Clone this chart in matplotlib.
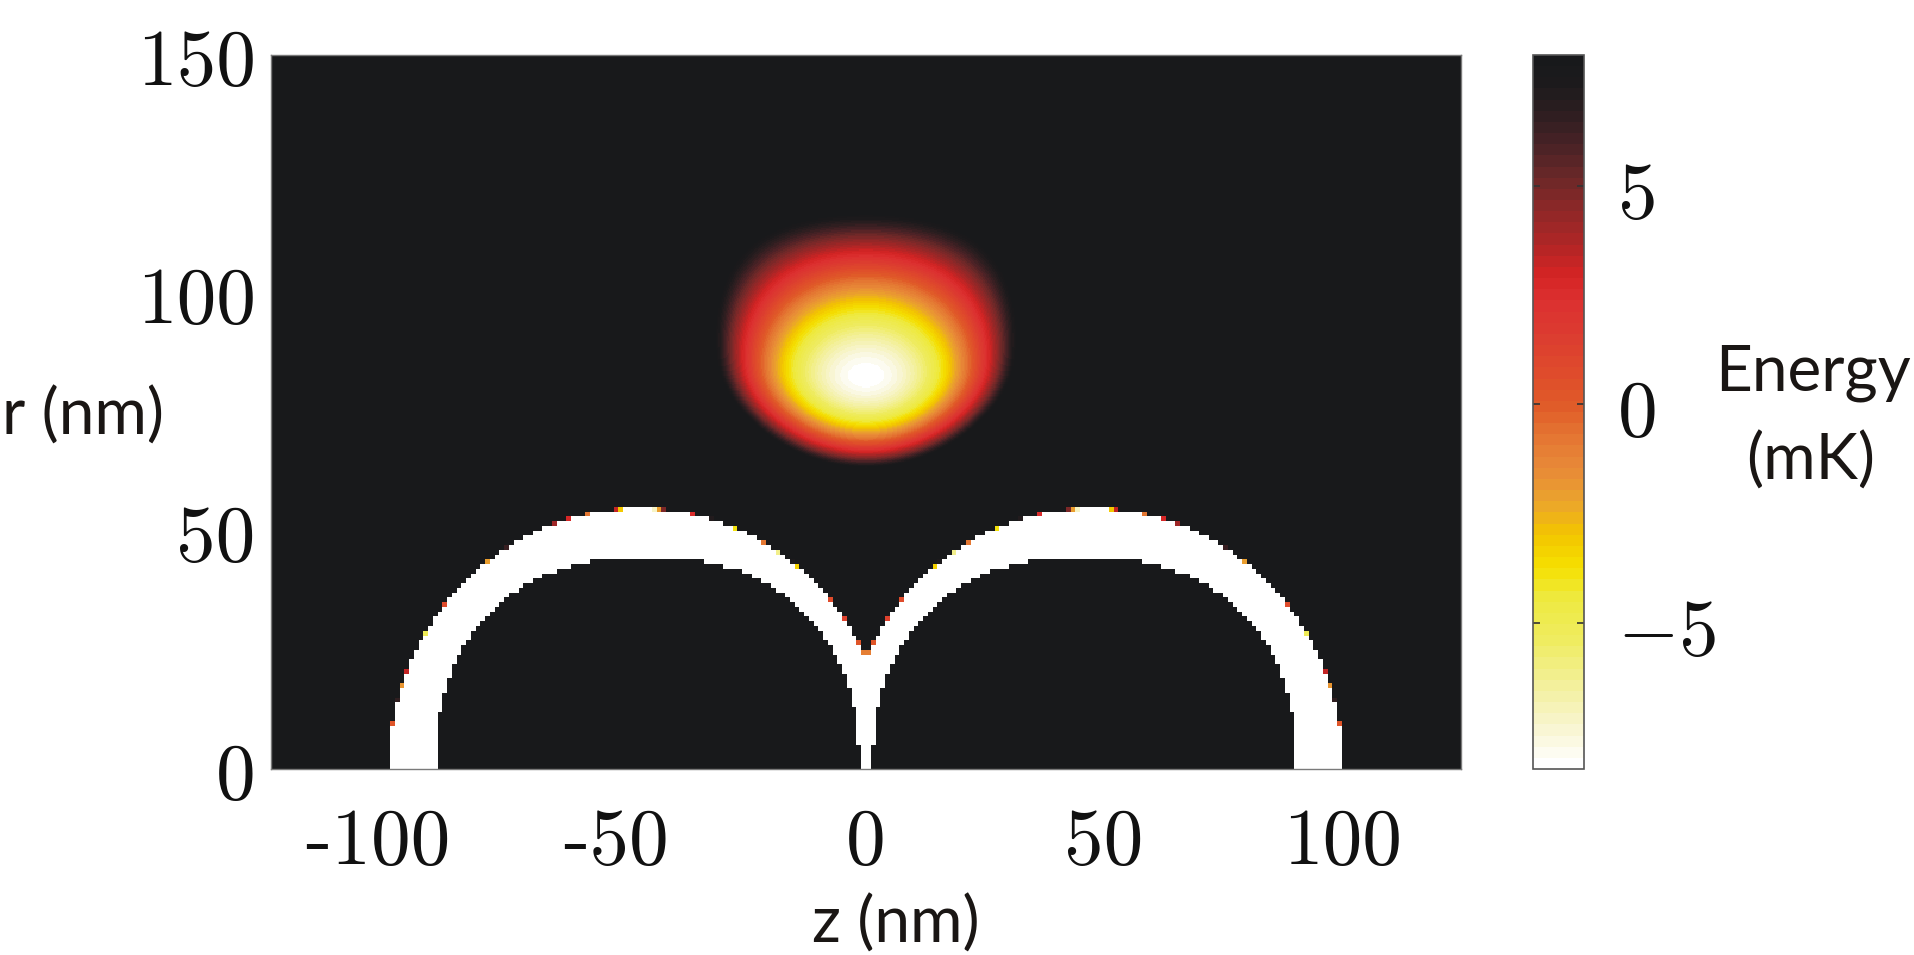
import numpy as np
import matplotlib
matplotlib.use("Agg")
import matplotlib.pyplot as plt
from matplotlib.colors import LinearSegmentedColormap
from matplotlib.transforms import ScaledTranslation

plt.rcParams["mathtext.fontset"] = "cm"
plt.rcParams["axes.unicode_minus"] = False

# ---------------- data ----------------
z_ticks = [-100, -50, 0, 50, 100]
z_ticklabels = ["-100", "-50", "0", "50", "100"]
r_ticks = [0, 50, 100, 150]
r_ticklabels = ["0", "50", "100", "150"]
cbar_ticks = [-5, 0, 5]
cbar_ticklabels = [r"$-5$", r"$0$", r"$5$"]

z_range = [-125, 125]          # nm
r_range = [0, 150]             # nm
energy_range = [-8.35, 8.0]    # mK (colour scale limits)

# trapping-potential well above the dimer
trap_center = [0.0, 82.5]      # z, r (nm)
trap_k_z = 0.0175              # mK/nm^2 along z at the minimum
trap_k_z_slope = 0.00038       # decrease of the z curvature per nm of r
trap_k_r_up = 0.0394           # mK/nm^2 above the minimum
trap_L_up = 19.0               # nm, softening above the minimum
trap_k_r_down = 0.044          # mK/nm^2 below the minimum

# two spheres with the strongly attractive (white) layer around them
sphere_z = [-45.9, 45.9]       # nm, centres of the hollow (sphere) regions
hollow_semi = [44.5, 44.5]     # z, r semi-axes (nm)
hollow_exp = 2.3
layer_z = [-47.6, 47.6]        # nm, centres of the outer layer boundary
layer_semi = [52.8, 54.8]      # z, r semi-axes (nm)
edge_band = 0.004              # width of the coloured rim on the outer edge
cell = 1.0                     # nm, sampling cell of the surface layer

# colour map (energy in mK -> colour)
cmap_values = [-8.35, -7.5, -6.5, -5.5, -4.5, -3.8, -3.0, -2.3, -1.5, -0.7,
               0.0, 0.8, 1.6, 2.4, 3.0, 3.8, 4.6, 5.3, 6.0, 6.8, 7.5, 8.0]
cmap_colors = ["#ffffff", "#f8f5d0", "#f3f09a", "#efec60", "#eeea40", "#f5e000",
               "#f3c400", "#eba52c", "#e88a38", "#e47432", "#e05a28", "#df4a2c",
               "#dc3c30", "#dc3030", "#d42424", "#ac2626", "#8a2828", "#6a2828",
               "#4a2226", "#2c1e20", "#1c1a1c", "#18191b"]

# ---------------- field ----------------
step = 0.25
z = np.arange(z_range[0] + step / 2, z_range[1], step)
r = np.arange(r_range[0] + step / 2, r_range[1], step)
Z, R = np.meshgrid(z, r)

dz = Z - trap_center[0]
dr = R - trap_center[1]
kz = np.clip(trap_k_z - trap_k_z_slope * dr, 0, None)
g = np.where(dr >= 0, trap_k_r_up * dr ** 2 / (1 + np.abs(dr) / trap_L_up),
             trap_k_r_down * dr ** 2)
E = np.minimum(energy_range[0] + kz * dz ** 2 + g, energy_range[1])

Zs = (np.floor(Z / cell) + 0.5) * cell
Rs = (np.floor(R / cell) + 0.5) * cell
qmin = np.full(Z.shape, 10.0)
hollow = np.zeros(Z.shape, dtype=bool)
for zl, zh in zip(layer_z, sphere_z):
    q = np.sqrt(((Zs - zl) / layer_semi[0]) ** 2 + (Rs / layer_semi[1]) ** 2)
    h = (np.abs((Zs - zh) / hollow_semi[0]) ** hollow_exp
         + np.abs(Rs / hollow_semi[1]) ** hollow_exp)
    hollow |= h < 1
    qmin = np.minimum(qmin, q)
shell = (qmin < 1) & ~hollow
E_shell = energy_range[1] - (1 - qmin) / edge_band * (energy_range[1] - energy_range[0])
E = np.where(shell, np.minimum(E, E_shell), E)

# ---------------- plot ----------------
W, H = 1915, 955
fig = plt.figure(figsize=(W / 100, H / 100), dpi=100)
ax = fig.add_axes([271 / W, 1 - 769 / H, 1190 / W, 714 / H])

span = energy_range[1] - energy_range[0]
pos = [(v - energy_range[0]) / span for v in cmap_values]
cmap = LinearSegmentedColormap.from_list("energy", list(zip(pos, cmap_colors)), N=64)

im = ax.imshow(E, origin="lower", extent=[z_range[0], z_range[1], r_range[0], r_range[1]],
               cmap=cmap, vmin=energy_range[0], vmax=energy_range[1],
               interpolation="nearest", aspect="auto")
ax.set_xlim(z_range)
ax.set_ylim(r_range)

tick_font = dict(family="cmr10", size=57, color="#111111")
ax.set_xticks(z_ticks)
ax.set_xticklabels(z_ticklabels, **tick_font)
ax.set_yticks(r_ticks)
ax.set_yticklabels(r_ticklabels, **tick_font)
ax.tick_params(axis="both", length=0)
ax.tick_params(axis="x", pad=28)
ax.tick_params(axis="y", pad=11)
for sp in ax.spines.values():
    sp.set_color("#7a7a7a")
    sp.set_linewidth(1.0)

for lbl in ax.get_xticklabels():
    if lbl.get_text().startswith("-"):
        lbl.set_transform(lbl.get_transform() + ScaledTranslation(-0.125, 0, fig.dpi_scale_trans))
for lbl in ax.get_yticklabels():
    lbl.set_transform(lbl.get_transform() + ScaledTranslation(0, -0.025, fig.dpi_scale_trans))

cax = fig.add_axes([1533 / W, 1 - 769 / H, 51 / W, 714 / H])
cb = fig.colorbar(im, cax=cax, ticks=cbar_ticks)
cb.ax.set_yticklabels(cbar_ticklabels, size=57, color="#111111")
cb.ax.yaxis.set_ticks_position("both")
cb.ax.tick_params(direction="in", length=5, width=1.2, color="#333333", pad=24,
                  labelleft=False, labelright=True)
cb.outline.set_edgecolor("#555555")
cb.outline.set_linewidth(1.2)
for lbl in cb.ax.get_yticklabels():
    lbl.set_transform(lbl.get_transform() + ScaledTranslation(0, -0.02, fig.dpi_scale_trans))

label_font = dict(family="Lato", size=46, color="#1a1614")
fig.text(2 / W, 1 - 416 / H, "r (nm)", ha="left", va="center", **label_font)
fig.text(896 / W, 1 - 924 / H, "z (nm)", ha="center", va="center", **label_font)
fig.text(1813 / W, 1 - 390 / H, "Energy", ha="center", va="baseline", **label_font)
fig.text(1811 / W, 1 - 480 / H, "(mK)", ha="center", va="baseline", **label_font)

fig.savefig("out.png", dpi=100)
